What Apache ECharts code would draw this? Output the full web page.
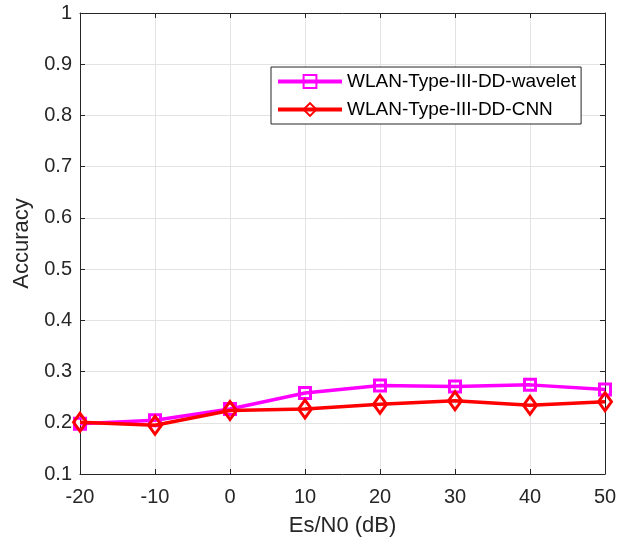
<!DOCTYPE html>
<html><head><meta charset="utf-8">
<script src="https://cdn.jsdelivr.net/npm/echarts@6/dist/echarts.min.js"></script>
<style>html,body{margin:0;padding:0;background:#fff}#c{width:625px;height:542px}</style>
</head><body><div id="c"></div>
<script>
const snr = [-20, -10, 0, 10, 20, 30, 40, 50];
const waveletAcc = [0.198, 0.205, 0.227, 0.258, 0.273, 0.271, 0.274, 0.265];
const cnnAcc = [0.201, 0.195, 0.224, 0.227, 0.236, 0.243, 0.234, 0.241];
const seriesNames = ['WLAN-Type-III-DD-wavelet', 'WLAN-Type-III-DD-CNN'];
const xTitle = 'Es/N0 (dB)';
const yTitle = 'Accuracy';

const font = 'Liberation Sans, Arial, sans-serif';
const axisCol = '#262626';
const chart = echarts.init(document.getElementById('c'), null, {renderer: 'canvas'});
const pair = (xs, ys) => xs.map((x, i) => [x, ys[i]]);
const mkAxisX = (pos, show) => ({
  type: 'value', position: pos, min: -20, max: 50, interval: 10,
  name: show ? xTitle : '', nameLocation: 'middle', nameGap: 41,
  nameTextStyle: {fontFamily: font, fontSize: 22, color: axisCol},
  axisLine: {show: true, onZero: false, lineStyle: {color: axisCol, width: 1}},
  axisTick: {show: true, inside: true, length: 5, lineStyle: {color: axisCol}},
  axisLabel: {show: show, fontFamily: font, fontSize: 20, color: axisCol, margin: 13},
  splitLine: {show: show, lineStyle: {color: '#e3e3e3', width: 1}}
});
const mkAxisY = (pos, show) => ({
  type: 'value', position: pos, min: 0.1, max: 1, interval: 0.1,
  name: show ? yTitle : '', nameLocation: 'middle', nameGap: 47,
  nameTextStyle: {fontFamily: font, fontSize: 22, color: axisCol},
  axisLine: {show: true, onZero: false, lineStyle: {color: axisCol, width: 1}},
  axisTick: {show: true, inside: true, length: 5, lineStyle: {color: axisCol}},
  axisLabel: {show: show, fontFamily: font, fontSize: 20, color: axisCol, margin: 8,
    formatter: v => String(+v.toFixed(1))},
  splitLine: {show: show, lineStyle: {color: '#e3e3e3', width: 1}}
});
chart.setOption({
  animation: false,
  backgroundColor: '#fff',
  grid: {left: 80, right: 20, top: 13, bottom: 68},
  xAxis: [mkAxisX('bottom', true), mkAxisX('top', false)],
  yAxis: [mkAxisY('left', true), mkAxisY('right', false)],
  legend: {
    orient: 'vertical', left: 271, top: 67,
    padding: [5, 5, 5, 5], itemGap: 9, itemWidth: 64, itemHeight: 16,
    borderColor: axisCol, borderWidth: 1, backgroundColor: '#fff',
    lineStyle: {width: 4},
    textStyle: {fontFamily: font, fontSize: 19, color: '#000'},
    data: seriesNames
  },
  series: [
    {
      name: seriesNames[0], type: 'line', data: pair(snr, waveletAcc),
      symbol: 'rect', symbolSize: 11,
      lineStyle: {color: '#ff00ff', width: 3.5},
      itemStyle: {color: 'rgba(255,0,255,0)', borderColor: '#ff00ff', borderWidth: 3},
      z: 2
    },
    {
      name: seriesNames[1], type: 'line', data: pair(snr, cnnAcc),
      symbol: 'diamond', symbolSize: [13, 18],
      lineStyle: {color: '#ff0000', width: 3.5},
      itemStyle: {color: 'rgba(255,0,0,0)', borderColor: '#ff0000', borderWidth: 3},
      z: 3
    }
  ]
});
</script></body></html>
